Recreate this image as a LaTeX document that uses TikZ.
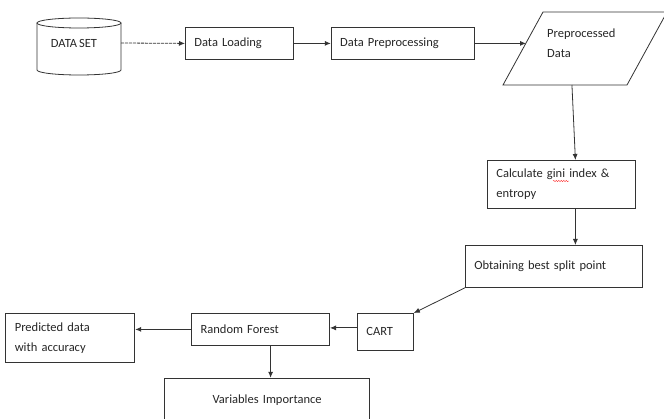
\documentclass[tikz,border=0pt]{standalone}
\usepackage{fontspec}
\setmainfont{Carlito}[WordSpace=0.7]
\usetikzlibrary{positioning,shapes.geometric,arrows.meta,calc,decorations.pathmorphing}

\begin{document}
\begin{tikzpicture}[x=1pt, y=-1pt, node distance=30pt,
  font=\fontsize{12.5}{20}\selectfont, text=black!85,
  box/.style={draw=black!80, line width=0.8pt, rectangle, align=left, inner xsep=9pt, inner ysep=3pt},
  flow/.style={draw=black!80, line width=0.8pt, -{Latex[length=6pt,width=5pt]}},
  squiggle/.style={draw=red!80, line width=0.4pt, decorate, decoration={snake, amplitude=0.7pt, segment length=2.5pt}}]
\useasboundingbox (0,0) rectangle (664,419);

% data store drawn as a cylinder
\draw[black!80, line width=0.8pt] (37,23) -- (37,70) arc[start angle=180, end angle=360, x radius=42pt, y radius=5pt] -- (121,23);
\draw[black!80, line width=0.8pt] (79,23) ellipse [x radius=42pt, y radius=5pt];
\node (ds) at (74,43) {DATA SET};
\coordinate (dsout) at (121,43);

% top row
\node[box, text width=90pt, minimum height=32pt, anchor=north west] (load) at (185,27) {Data Loading};
\node[box, text width=125pt, minimum height=32pt, right=37pt of load] (prep) {Data Preprocessing};

% parallelogram for the preprocessed data
\coordinate (pa) at (503,85);
\coordinate (pb) at (627,85);
\coordinate (pc) at (667,12);
\coordinate (pd) at (543,12);
\draw[black!80, line width=0.8pt] (pa) -- (pb) -- (pc) -- (pd) -- cycle;
\node[text width=75pt, align=left, anchor=north west, inner sep=0pt] (ppd) at (547,29) {Preprocessed\\Data};
\coordinate (ppdin) at ($(pa)!0.575!(pd)$);
\coordinate (ppdout) at ($(pa)!0.556!(pb)$);

% right column
\node[box, text width=130pt, minimum height=48pt, anchor=north west] (calc) at (487,160) {Calculate gini index \&\\entropy};
\node[box, text width=159pt, minimum height=42pt, anchor=north west] (best) at (465,245) {Obtaining best split point};
% spell-check mark under "gini"
\draw[squiggle] ([shift={(66pt,-21pt)}]calc.north west) -- ([shift={(82pt,-21pt)}]calc.north west);

% bottom row
\node[box, text width=38pt, minimum height=37pt, anchor=north west] (cart) at (357,313) {CART};
\node[box, text width=120pt, minimum height=32pt, left=27pt of cart.north west, anchor=north east] (rf) {Random Forest};
\node[box, text width=111pt, minimum height=49pt, left=56pt of rf.north west, anchor=north east] (pred) {Predicted data\\with accuracy};
\node[box, text width=187pt, align=center, minimum height=43pt, below=32pt of rf, xshift=6.5pt] (vi) {Variables Importance};

\draw[flow, dash pattern=on 3pt off 1pt] (dsout) -- (load.west);
\draw[flow] (load) -- (prep);
\draw[flow] (prep.east) -- (prep.east -| ppdin);
\draw[flow] (ppdout) -- ([xshift=14pt]calc.north);
\draw[flow] ([xshift=14pt]calc.south) -- ([xshift=14pt]calc.south |- best.north);
\draw[flow] (best.south west) -- (cart.north east);
\draw[flow] ([yshift=4pt]cart.west) -- ([yshift=4pt]cart.west -| rf.east);
\draw[flow] (rf) -- (rf -| pred.east);
\draw[flow] ([xshift=10pt]rf.south) -- ([xshift=10pt]rf.south |- vi.north);
\end{tikzpicture}
\end{document}
